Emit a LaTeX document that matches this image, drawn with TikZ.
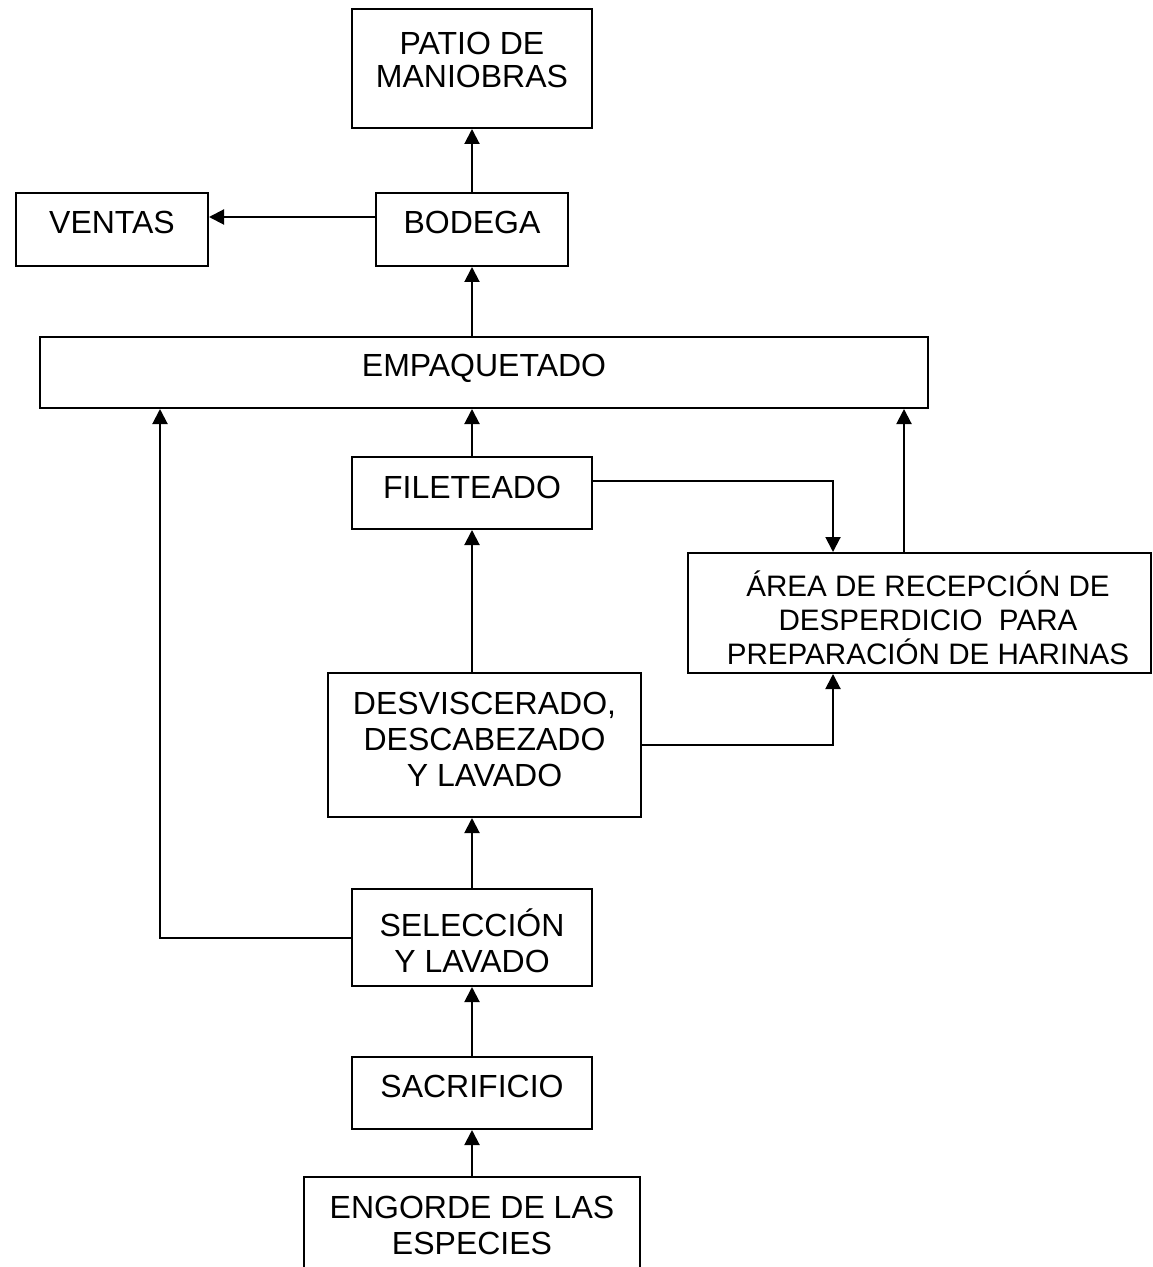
\documentclass[tikz,border=0pt]{standalone}
\usepackage{fontspec}
\setmainfont{Liberation Sans}
\usetikzlibrary{arrows.meta}
\begin{document}
\begin{tikzpicture}[x=0.5pt,y=-0.5pt,
  box/.style={draw, line width=1pt, inner sep=0pt},
  lbl/.style={align=center, inner sep=0pt, font=\fontsize{16}{18}\selectfont},
  flow/.style={line width=1pt, -{Triangle[length=7.5pt,width=7.5pt]}}]
\useasboundingbox (0,0) rectangle (1152,1267);
\clip (0,0) rectangle (1152,1267);

% process boxes
\node[box, minimum width=120pt, minimum height=59.5pt] (patio) at (472,68.5) {};
\node[box, minimum width=96pt, minimum height=36.5pt] (ventas) at (112,229.5) {};
\node[box, minimum width=96pt, minimum height=36.5pt] (bodega) at (472,229.5) {};
\node[box, minimum width=444pt, minimum height=35.5pt] (emp) at (484,372.5) {};
\node[box, minimum width=120pt, minimum height=36pt] (filet) at (472,493) {};
\node[box, minimum width=231.5pt, minimum height=60pt] (area) at (919.5,613) {};
\node[box, minimum width=156.5pt, minimum height=72pt] (desv) at (484.5,745) {};
\node[box, minimum width=120pt, minimum height=48.5pt] (sel) at (472,937.5) {};
\node[box, minimum width=120pt, minimum height=36pt] (sac) at (472,1093) {};
\node[box, minimum width=168pt, minimum height=61.5pt] (eng) at (472,1238.5) {};

% box texts
\node[lbl, font=\fontsize{16}{16.5}\selectfont] (tpatio) at (472,59.5) {PATIO DE\\MANIOBRAS};
\node[lbl] (tventas) at (112,222) {VENTAS};
\node[lbl] (tbodega) at (472,222) {BODEGA};
\node[lbl] (temp) at (484,368) {EMPAQUETADO};
\node[lbl] (tfilet) at (472,487) {FILETEADO};
\node[lbl, font=\fontsize{14.8}{17}\selectfont] (tarea) at (928,618) {ÁREA DE RECEPCIÓN DE\\DESPERDICIO\ \ PARA\\PREPARACIÓN DE HARINAS};
\node[lbl] (tdesv) at (484.5,739) {DESVISCERADO,\\DESCABEZADO\\Y LAVADO};
\node[lbl] (tsel) at (472,941) {SELECCIÓN\\Y LAVADO};
\node[lbl] (tsac) at (472,1086) {SACRIFICIO};
\node[lbl] (teng) at (472,1225) {ENGORDE DE LAS\\ESPECIES};

% flow connectors
\draw[flow] (bodega.north) -- (patio.south);
\draw[flow] ([yshift=6.25pt]bodega.west) -- ([yshift=6.25pt]ventas.east);
\draw[flow] (emp.north -| bodega.south) -- (bodega.south);
\draw[flow] (filet.north) -- (filet.north |- emp.south);
\draw[flow] ([yshift=6pt]filet.east) -| ([xshift=-43.25pt]area.north);
\draw[flow] ([xshift=-7.75pt]area.north) -- ([xshift=-7.75pt]area.north |- emp.south);
\draw[flow] (desv.north -| filet.south) -- (filet.south);
\draw[flow] (desv.east) -| ([xshift=-43.25pt]area.south);
\draw[flow] (sel.north) -- (sel.north |- desv.south);
\draw[flow] (sel.west) -| ([xshift=-162pt]emp.south);
\draw[flow] (sac.north) -- (sel.south);
\draw[flow] (eng.north) -- (sac.south);
\end{tikzpicture}
\end{document}
